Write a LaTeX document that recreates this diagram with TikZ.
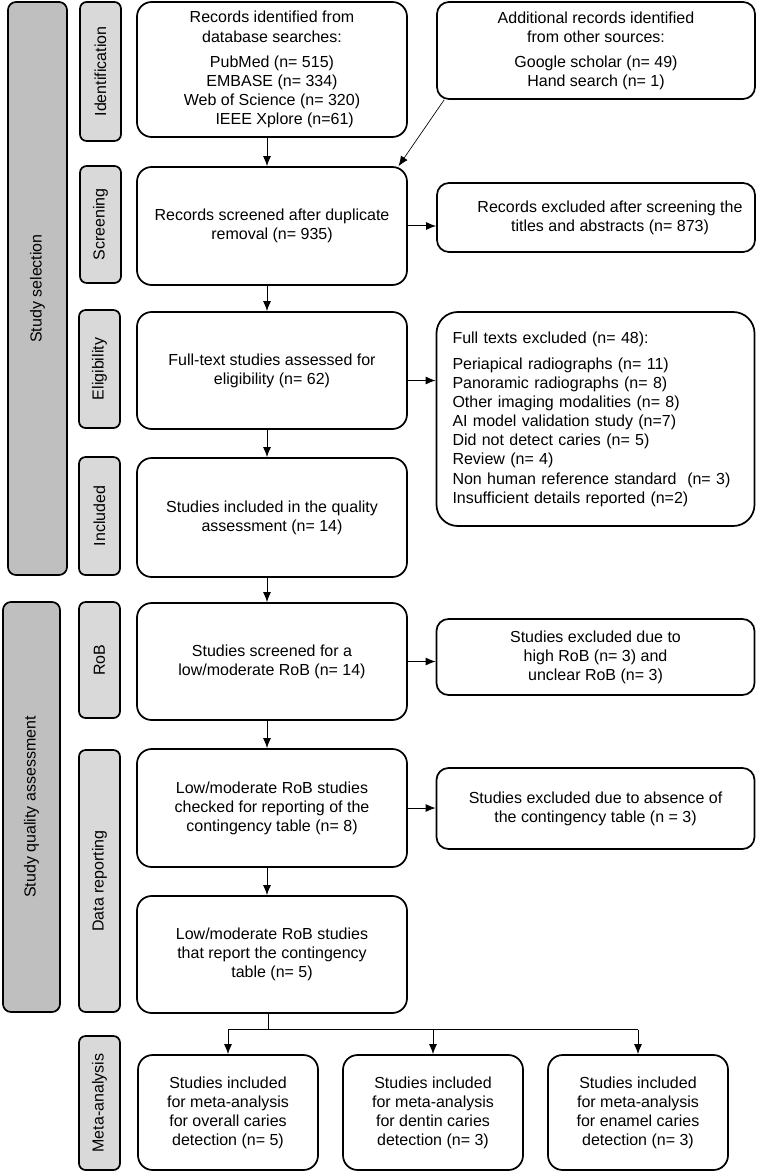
\documentclass[tikz,border=0pt]{standalone}
\usepackage{fontspec}
\setmainfont{Liberation Sans}
\usetikzlibrary{arrows.meta,calc,positioning}
\definecolor{bargray}{HTML}{BFBFBF}
\definecolor{labgray}{HTML}{D9D9D9}
\tikzset{%
	stage/.style     = {draw, line width=1.3pt, fill=bargray, rounded corners=6pt, rotate=90, inner sep=0pt}, % big side bar
	phase/.style     = {draw, line width=1.3pt, fill=labgray, rounded corners=5pt, rotate=90, inner sep=0pt, minimum height=30.75pt}, % step label
	block/.style     = {draw, line width=1.3pt, rounded corners=11pt, align=center, inner sep=0pt, minimum width=202.5pt},
	sideblock/.style = {draw, line width=1.3pt, rounded corners=9pt, align=center, inner sep=0pt, minimum width=238.5pt},
	result/.style    = {draw, line width=1.3pt, rounded corners=11pt, align=center, inner sep=0pt, minimum width=135pt, minimum height=86.25pt},
	arrow/.style     = {line width=0.75pt, -{Latex[length=7.5pt,width=6pt]}},
}
\begin{document}
\begin{tikzpicture}[x=0.75pt,y=-0.75pt,font=\fontsize{12pt}{14.3pt}\selectfont]
	\useasboundingbox (0,0) rectangle (760,1173);
	% side bars
	\node [stage, minimum width=429.75pt, minimum height=44.25pt] (selbar) at (37.5,288.5) {Study selection};
	\node [stage, minimum width=307.5pt, minimum height=42.75pt] (qualbar) at (31.5,807) {Study quality assessment};
	\node [phase, minimum width=104.25pt] (identification) at (100.5,71.5) {Identification};
	\node [phase, minimum width=87.75pt] (screening) at (100.5,224.5) {Screening};
	\node [phase, minimum width=88.5pt] (eligibility) at (99.5,369) {Eligibility};
	\node [phase, minimum width=88.5pt] (included) at (99.5,516) {Included};
	\node [phase, minimum width=87pt] (rob) at (99.5,660) {RoB};
	\node [phase, minimum width=196.5pt] (reporting) at (99.5,881) {Data reporting};
	\node [phase, minimum width=100.5pt] (meta) at (99.5,1103) {Meta-analysis};
	
	% main column
	\node [block, minimum height=101.25pt] (records) at (272,69.5) {Records identified from\\database searches:\\[4.5pt]PubMed (n= 515)\\EMBASE (n= 334)\\Web of Science (n= 320)\\\hspace*{19pt}IEEE Xplore (n=61)};
	\node [block, minimum height=88.5pt] (screened) at (272,226) {Records screened after duplicate\\removal (n= 935)};
	\node [block, minimum height=87.75pt] (fulltext) at (272,370.5) {Full-text studies assessed for\\eligibility (n= 62)};
	\node [block, minimum height=89.25pt] (assessed) at (272,517.5) {Studies included in the quality\\assessment (n= 14)};
	\node [block, minimum height=87.75pt] (robscreen) at (272,661.5) {Studies screened for a\\low/moderate RoB (n= 14)};
	\node [block, minimum height=88.5pt] (checked) at (272,808) {Low/moderate RoB studies\\checked for reporting of the\\contingency table (n= 8)};
	\node [block, minimum height=87.75pt] (reported) at (272,954.5) {Low/moderate RoB studies\\that report the contingency\\table (n= 5)};
	
	% right column
	\node [sideblock, minimum height=72.75pt] (additional) at (596,50.5) {Additional records identified\\from other sources:\\[4.5pt]Google scholar (n= 49)\\Hand search (n= 1)};
	\node [sideblock, minimum height=51.75pt] (screenout) at (596,217.5) {\hspace*{21pt}Records excluded after screening the\\\hspace*{21pt}titles and abstracts (n= 873)};
	\node [sideblock, rounded corners=16pt, align=left, text width=214.5pt, inner xsep=12pt, minimum height=160.5pt] (fullout) at (595.5,419) {Full texts excluded (n= 48):\\[5.5pt]Periapical radiographs (n= 11)\\Panoramic radiographs (n= 8)\\Other imaging modalities (n= 8)\\AI model validation study (n=7)\\Did not detect caries (n= 5)\\Review (n= 4)\\Non human reference standard~ (n= 3)\\Insufficient details reported (n=2)};
	\node [sideblock, minimum height=57pt] (robout) at (595.5,657) {Studies excluded due to\\high RoB (n= 3) and\\unclear RoB (n= 3)};
	\node [sideblock, minimum height=60.75pt] (absout) at (595.5,808.5) {Studies excluded due to absence of\\the contingency table (n = 3)};
	
	% bottom row
	\node [result] (overall) at (228,1112.5) {Studies included\\for meta-analysis\\for overall caries\\detection (n= 5)};
	\node [result] (dentin) at (433,1112.5) {Studies included\\for meta-analysis\\for dentin caries\\detection (n= 3)};
	\node [result] (enamel) at (638,1112.5) {Studies included\\for meta-analysis\\for enamel caries\\detection (n= 3)};
	
	\coordinate (ftout) at ([yshift=-7.5pt]fulltext.east);
	\coordinate (split) at ($(reported.south)+(-4,16)$);
	
	\draw[arrow] ([xshift=-3.75pt]records.south) -- ([xshift=-3.75pt]screened.north);
	\draw[arrow] ([xshift=-3.75pt]screened.south) -- ([xshift=-3.75pt]fulltext.north);
	\draw[arrow] ([xshift=-3.75pt]fulltext.south) -- ([xshift=-3.75pt]assessed.north);
	\draw[arrow] ([xshift=-3.75pt]assessed.south) -- ([xshift=-3.75pt]robscreen.north);
	\draw[arrow] ([xshift=-3.75pt]robscreen.south) -- ([xshift=-3.75pt]checked.north);
	\draw[arrow] ([xshift=-3.75pt]checked.south) -- ([xshift=-3.75pt]reported.north);
	\draw[arrow, line width=0.5pt] ([xshift=6pt]additional.south west) -- ([xshift=-7pt]screened.north east);
	\draw[arrow] (screened.east) -- (screened.east -| screenout.west);
	\draw[arrow] (ftout) -- (ftout -| fullout.west);
	\draw[arrow] (robscreen.east) -- (robscreen.east -| robout.west);
	\draw[arrow] (checked.east) -- (checked.east -| absout.west);
	\draw[line width=0.75pt] ([xshift=-3pt]reported.south) -- (split);
	\draw[line width=0.75pt] (overall.north |- split) -- (enamel.north |- split);
	\draw[arrow] (overall.north |- split) -- (overall.north);
	\draw[arrow] (dentin.north |- split) -- (dentin.north);
	\draw[arrow] (enamel.north |- split) -- (enamel.north);
\end{tikzpicture}
\end{document}
